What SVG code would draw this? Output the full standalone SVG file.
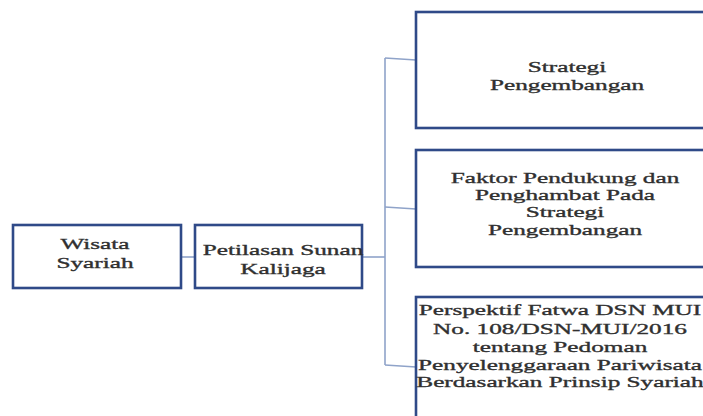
<svg xmlns="http://www.w3.org/2000/svg" width="703" height="416" viewBox="0 0 703 416">
<style>
.box{fill:#fff;stroke:#2F4A88;stroke-width:2.6}
.lbl{font-family:"Liberation Serif","Times New Roman",serif;font-size:15.5px;fill:#303030;stroke:#303030;stroke-width:0.35;text-anchor:middle}
.con{fill:none;stroke:#8FA3C9;stroke-width:1.6}
</style>
<rect width="703" height="416" fill="#fff"/>
<g id="connectors">
<line class="con" x1="181" y1="257" x2="195" y2="257"/>
<line class="con" x1="362" y1="257" x2="385" y2="257"/>
<line class="con" x1="385" y1="58" x2="385" y2="365"/>
<line class="con" x1="385" y1="58" x2="416" y2="60"/>
<line class="con" x1="385" y1="207" x2="416" y2="209"/>
<line class="con" x1="385" y1="365" x2="416" y2="367"/>
</g>
<g id="n1">
<rect class="box" x="13" y="225" width="168" height="63"/>
<text class="lbl" transform="translate(95,0) scale(1.63,1)"><tspan x="0" y="249">Wisata</tspan><tspan x="0" y="268">Syariah</tspan></text>
</g>
<g id="n2">
<rect class="box" x="195" y="225" width="167" height="63"/>
<text class="lbl" transform="translate(283,0) scale(1.63,1)"><tspan x="0" y="255">Petilasan Sunan</tspan><tspan x="0" y="274">Kalijaga</tspan></text>
</g>
<g id="n3">
<rect class="box" x="416" y="12" width="310" height="116"/>
<text class="lbl" transform="translate(567,0) scale(1.63,1)"><tspan x="0" y="72">Strategi</tspan><tspan x="0" y="90">Pengembangan</tspan></text>
</g>
<g id="n4">
<rect class="box" x="416" y="150" width="310" height="117"/>
<text class="lbl" transform="translate(565,0) scale(1.63,1)"><tspan x="0" y="183">Faktor Pendukung dan</tspan><tspan x="0" y="200">Penghambat Pada</tspan><tspan x="0" y="217">Strategi</tspan><tspan x="0" y="235">Pengembangan</tspan></text>
</g>
<g id="n5">
<rect class="box" x="416" y="297" width="310" height="140"/>
<text class="lbl" transform="translate(560,0) scale(1.63,1)"><tspan x="0" y="315">Perspektif Fatwa DSN MUI</tspan><tspan x="0" y="334">No. 108/DSN-MUI/2016</tspan><tspan x="0" y="352">tentang Pedoman</tspan><tspan x="0" y="370">Penyelenggaraan Pariwisata</tspan><tspan x="0" y="387">Berdasarkan Prinsip Syariah</tspan></text>
</g>
</svg>
